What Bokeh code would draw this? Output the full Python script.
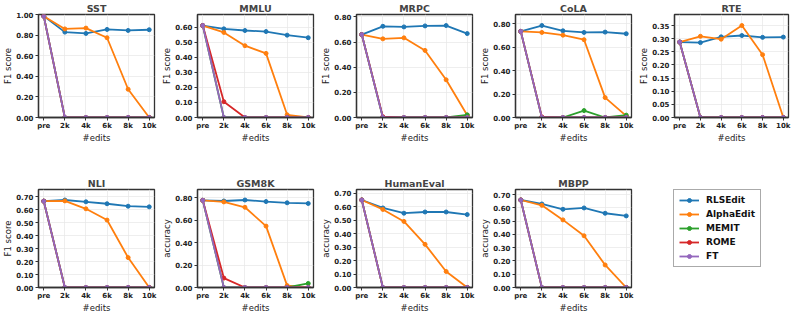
from bokeh.plotting import figure
from bokeh.layouts import row, column
from bokeh.models import (Range1d, FixedTicker, SingleIntervalTicker,
                          PrintfTickFormatter, Legend, LegendItem)
from bokeh.embed import file_html
from bokeh.resources import INLINE

EDITS = ["pre", "2k", "4k", "6k", "8k", "10k"]
METHODS = ["RLSEdit", "AlphaEdit", "MEMIT", "ROME", "FT"]
COLORS = ["#1f77b4", "#ff7f0e", "#2ca02c", "#d62728", "#9467bd"]

SST_RLSEDIT = [0.984, 0.829, 0.816, 0.855, 0.845, 0.852]
SST_ALPHAEDIT = [0.984, 0.860, 0.868, 0.774, 0.274, 0.0]
SST_MEMIT = [0.984, 0.0, 0.0, 0.0, 0.0, 0.0]
SST_ROME = [0.984, 0.0, 0.0, 0.0, 0.0, 0.0]
SST_FT = [0.984, 0.0, 0.0, 0.0, 0.0, 0.0]

MMLU_RLSEDIT = [0.611, 0.589, 0.578, 0.571, 0.547, 0.530]
MMLU_ALPHAEDIT = [0.611, 0.565, 0.477, 0.426, 0.018, 0.0]
MMLU_MEMIT = [0.611, 0.0, 0.0, 0.0, 0.0, 0.0]
MMLU_ROME = [0.611, 0.105, 0.0, 0.0, 0.0, 0.0]
MMLU_FT = [0.611, 0.0, 0.0, 0.0, 0.0, 0.0]

MRPC_RLSEDIT = [0.660, 0.726, 0.721, 0.729, 0.732, 0.668]
MRPC_ALPHAEDIT = [0.660, 0.626, 0.634, 0.534, 0.300, 0.018]
MRPC_MEMIT = [0.660, 0.0, 0.0, 0.0, 0.0, 0.021]
MRPC_ROME = [0.660, 0.006, 0.0, 0.0, 0.0, 0.0]
MRPC_FT = [0.660, 0.0, 0.0, 0.0, 0.0, 0.0]

COLA_RLSEDIT = [0.735, 0.785, 0.740, 0.726, 0.729, 0.715]
COLA_ALPHAEDIT = [0.735, 0.726, 0.703, 0.664, 0.170, 0.014]
COLA_MEMIT = [0.735, 0.0, 0.0, 0.059, 0.0, 0.020]
COLA_ROME = [0.735, 0.005, 0.0, 0.0, 0.0, 0.0]
COLA_FT = [0.735, 0.0, 0.0, 0.0, 0.0, 0.0]

RTE_RLSEDIT = [0.287, 0.285, 0.307, 0.312, 0.305, 0.306]
RTE_ALPHAEDIT = [0.287, 0.309, 0.298, 0.350, 0.239, 0.0]
RTE_MEMIT = [0.287, 0.0, 0.0, 0.0, 0.0, 0.0]
RTE_ROME = [0.287, 0.0, 0.0, 0.0, 0.0, 0.0]
RTE_FT = [0.287, 0.0, 0.0, 0.0, 0.0, 0.0]

NLI_RLSEDIT = [0.667, 0.676, 0.662, 0.647, 0.628, 0.623]
NLI_ALPHAEDIT = [0.667, 0.669, 0.608, 0.521, 0.231, 0.0]
NLI_MEMIT = [0.667, 0.0, 0.0, 0.0, 0.0, 0.0]
NLI_ROME = [0.667, 0.0, 0.0, 0.0, 0.0, 0.0]
NLI_FT = [0.667, 0.0, 0.0, 0.0, 0.0, 0.0]

GSM8K_RLSEDIT = [0.778, 0.772, 0.781, 0.767, 0.756, 0.750]
GSM8K_ALPHAEDIT = [0.778, 0.764, 0.716, 0.548, 0.017, 0.0]
GSM8K_MEMIT = [0.778, 0.0, 0.0, 0.0, 0.0, 0.036]
GSM8K_ROME = [0.778, 0.084, 0.0, 0.0, 0.0, 0.0]
GSM8K_FT = [0.778, 0.0, 0.0, 0.0, 0.0, 0.0]

HUMANEVAL_RLSEDIT = [0.649, 0.590, 0.551, 0.560, 0.560, 0.541]
HUMANEVAL_ALPHAEDIT = [0.649, 0.579, 0.490, 0.320, 0.119, 0.0]
HUMANEVAL_MEMIT = [0.649, 0.0, 0.0, 0.0, 0.0, 0.0]
HUMANEVAL_ROME = [0.649, 0.0, 0.0, 0.0, 0.0, 0.0]
HUMANEVAL_FT = [0.649, 0.0, 0.0, 0.0, 0.0, 0.0]

MBPP_RLSEDIT = [0.660, 0.630, 0.590, 0.600, 0.560, 0.540]
MBPP_ALPHAEDIT = [0.660, 0.620, 0.510, 0.390, 0.170, 0.0]
MBPP_MEMIT = [0.660, 0.0, 0.0, 0.0, 0.0, 0.0]
MBPP_ROME = [0.660, 0.0, 0.0, 0.0, 0.0, 0.0]
MBPP_FT = [0.660, 0.0, 0.0, 0.0, 0.0, 0.0]

PANELS = [
    ("SST", "F1 score", 0.2, [SST_RLSEDIT, SST_ALPHAEDIT, SST_MEMIT, SST_ROME, SST_FT]),
    ("MMLU", "F1 score", 0.1, [MMLU_RLSEDIT, MMLU_ALPHAEDIT, MMLU_MEMIT, MMLU_ROME, MMLU_FT]),
    ("MRPC", "F1 score", 0.2, [MRPC_RLSEDIT, MRPC_ALPHAEDIT, MRPC_MEMIT, MRPC_ROME, MRPC_FT]),
    ("CoLA", "F1 score", 0.2, [COLA_RLSEDIT, COLA_ALPHAEDIT, COLA_MEMIT, COLA_ROME, COLA_FT]),
    ("RTE", "F1 score", 0.05, [RTE_RLSEDIT, RTE_ALPHAEDIT, RTE_MEMIT, RTE_ROME, RTE_FT]),
    ("NLI", "F1 score", 0.1, [NLI_RLSEDIT, NLI_ALPHAEDIT, NLI_MEMIT, NLI_ROME, NLI_FT]),
    ("GSM8K", "accuracy", 0.2, [GSM8K_RLSEDIT, GSM8K_ALPHAEDIT, GSM8K_MEMIT, GSM8K_ROME, GSM8K_FT]),
    ("HumanEval", "accuracy", 0.1, [HUMANEVAL_RLSEDIT, HUMANEVAL_ALPHAEDIT, HUMANEVAL_MEMIT, HUMANEVAL_ROME, HUMANEVAL_FT]),
    ("MBPP", "accuracy", 0.1, [MBPP_RLSEDIT, MBPP_ALPHAEDIT, MBPP_MEMIT, MBPP_ROME, MBPP_FT]),
]

FONT = "DejaVu Sans"
DARK = "#333333"
COL_W = [159, 159, 159, 159, 157]
ROW_H = [158, 157]
BORDER_TOP = [13, 31]
BORDER_BOTTOM = [41, 22]
X = list(range(len(EDITS)))


def make_panel(title, ylabel, interval, series, width, height, row_idx):
    ymax = max(max(s) for s in series)
    top = min(1.0, ymax * 1.12)
    p = figure(width=width, height=height, output_backend="svg",
               toolbar_location=None, tools="",
               x_range=Range1d(-0.25, len(EDITS) - 0.75), y_range=Range1d(0, top),
               min_border_left=29, min_border_right=5,
               min_border_top=BORDER_TOP[row_idx],
               min_border_bottom=BORDER_BOTTOM[row_idx])
    p.title.text = title
    p.title.align = "center"
    p.title.text_font = FONT
    p.title.text_font_size = "9.5px"
    p.title.text_font_style = "bold"
    p.title.standoff = 1
    p.title.offset = 0
    p.background_fill_color = "white"
    p.border_fill_color = "white"
    p.outline_line_color = DARK
    p.outline_line_width = 1.3

    p.xaxis.ticker = FixedTicker(ticks=X)
    p.xaxis.major_label_overrides = {i: e for i, e in enumerate(EDITS)}
    p.yaxis.ticker = SingleIntervalTicker(interval=interval)
    p.yaxis.formatter = PrintfTickFormatter(format="%.2f")
    p.xaxis.axis_label = "#edits"
    p.yaxis.axis_label = ylabel
    for ax in (p.xaxis, p.yaxis):
        ax.axis_line_color = DARK
        ax.axis_line_width = 1.3
        ax.major_tick_line_color = DARK
        ax.major_tick_out = 3
        ax.major_tick_in = 0
        ax.minor_tick_line_color = None
        ax.major_label_text_font = FONT
        ax.major_label_text_font_size = "7px"
        ax.major_label_text_font_style = "bold"
        ax.major_label_text_color = "#222222"
        ax.major_label_standoff = 1
        ax.axis_label_text_font = FONT
        ax.axis_label_text_font_size = "8.5px"
        ax.axis_label_text_font_style = "normal"
        ax.axis_label_text_color = "#222222"
        ax.axis_label_standoff = 0
    p.xgrid.grid_line_color = "#e6e6e6"
    p.ygrid.grid_line_color = "#e6e6e6"
    p.xgrid.grid_line_width = 0.7
    p.ygrid.grid_line_width = 0.7

    for vals, color in zip(series, COLORS):
        p.line(X, vals, line_color=color, line_width=1.8)
        p.scatter(X, vals, size=4, fill_color=color, line_color=color)
    return p


figs = []
for i, (t, yl, iv, s) in enumerate(PANELS):
    r = 0 if i < 5 else 1
    c = i if i < 5 else i - 5
    figs.append(make_panel(t, yl, iv, s, COL_W[c], ROW_H[r], r))

# legend panel (its own empty figure)
lg = figure(width=COL_W[4], height=ROW_H[1], output_backend="svg",
            toolbar_location=None, tools="",
            x_axis_location=None, y_axis_location=None,
            x_range=Range1d(0, 1), y_range=Range1d(0, 1),
            min_border=0)
lg.grid.visible = False
lg.outline_line_color = None
lg.background_fill_color = "white"
lg.border_fill_color = "white"
items = []
for m, color in zip(METHODS, COLORS):
    lr = lg.line([-5, -4], [-5, -4], line_color=color, line_width=1.8)
    sr = lg.scatter([-5], [-5], size=4, fill_color=color, line_color=color)
    items.append(LegendItem(label=m, renderers=[lr, sr]))
legend = Legend(items=items, location=(37, 20),
                label_text_font=FONT, label_text_font_size="9px",
                label_text_font_style="bold", label_text_color="#111111",
                glyph_width=20, glyph_height=10, label_height=10,
                label_standoff=7, spacing=4, padding=5, margin=0,
                border_line_color="#555555", border_line_width=1,
                background_fill_color="white", background_fill_alpha=1)
lg.add_layout(legend, "center")

layout = column(row(*figs[:5]), row(*(figs[5:] + [lg])))

open("out.html", "w").write(file_html(layout, INLINE))
